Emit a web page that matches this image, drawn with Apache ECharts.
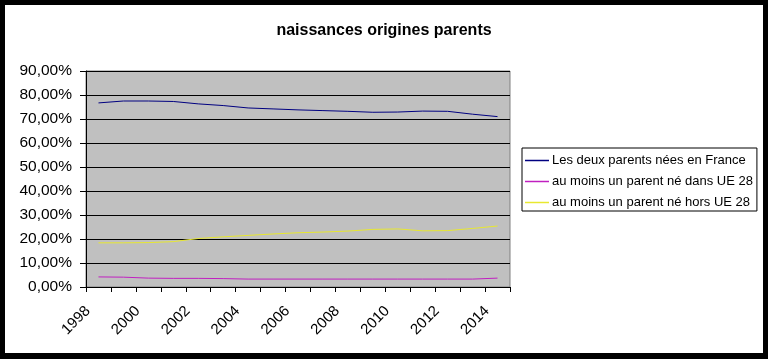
<!DOCTYPE html>
<html>
<head>
<meta charset="utf-8">
<script src="https://cdn.jsdelivr.net/npm/echarts@6/dist/echarts.min.js"></script>
<style>
html,body{margin:0;padding:0;background:#000;}
#c{width:768px;height:359px;}
</style>
</head>
<body>
<div id="c"></div>
<script>
var years = ['1998','1999','2000','2001','2002','2003','2004','2005','2006','2007','2008','2009','2010','2011','2012','2013','2014'];
var deuxFrance = [76.7,77.5,77.5,77.3,76.3,75.6,74.6,74.2,73.8,73.5,73.2,72.8,72.9,73.3,73.2,72.0,71.0];
var dansUE28 = [4.2,4.1,3.7,3.6,3.6,3.5,3.3,3.3,3.3,3.3,3.3,3.3,3.3,3.3,3.3,3.3,3.7];
var horsUE28 = [18.4,18.4,18.5,18.9,20.2,20.9,21.5,22.1,22.6,22.9,23.3,24.0,24.2,23.4,23.5,24.4,25.4];
var seriesNames = ['Les deux parents nées en France','au moins un parent né dans UE 28','au moins un parent né hors UE 28'];
var titleText = 'naissances origines parents';

var font = 'Liberation Sans, Arial, sans-serif';
var chart = echarts.init(document.getElementById('c'), null, {renderer:'canvas'});
function mk(name, data, color){
  return {name:name, type:'line', data:data, symbol:'none', smooth:false,
    lineStyle:{color:color, width:1}, itemStyle:{color:color}, animation:false};
}
chart.setOption({
  animation:false,
  backgroundColor:'#000',
  graphic:[{type:'rect', z:-10, silent:true, shape:{x:5,y:5,width:758,height:348}, style:{fill:'#fff'}}],
  title:{text:titleText, left:'center', top:18, textStyle:{fontFamily:font, fontSize:16, fontWeight:'bold', color:'#000'}},
  grid:{left:86, right:258, top:71, bottom:72, show:true, backgroundColor:'#c0c0c0', borderColor:'#808080', borderWidth:1},
  legend:{
    orient:'vertical', left:522, top:148, icon:'rect', itemWidth:24, itemHeight:1.5, itemGap:8,
    backgroundColor:'#fff', borderColor:'#000', borderWidth:1, borderRadius:0, padding:[6,4,2,3],
    textStyle:{fontFamily:font, fontSize:13, color:'#000', padding:[0,0,0,-2]},
    data:seriesNames
  },
  xAxis:{
    type:'category', data:years, boundaryGap:true,
    axisLine:{show:true, lineStyle:{color:'#000', width:1}},
    axisTick:{show:true, interval:0, length:5, lineStyle:{color:'#000'}},
    axisLabel:{interval:1, rotate:45, margin:11, padding:[0,15,0,0], fontFamily:font, fontSize:15, color:'#000'},
    splitLine:{show:false}
  },
  yAxis:{
    type:'value', min:0, max:90, interval:10,
    axisLine:{show:true, lineStyle:{color:'#000', width:1}},
    axisTick:{show:true, length:6, lineStyle:{color:'#000'}},
    axisLabel:{margin:14, fontFamily:font, fontSize:15.5, color:'#000',
      formatter:function(v){return v.toFixed(2).replace('.',',')+'%';}},
    splitLine:{show:true, lineStyle:{color:'#000', width:1}}
  },
  series:[
    mk(seriesNames[0], deuxFrance, '#000080'),
    mk(seriesNames[1], dansUE28, '#c020c0'),
    mk(seriesNames[2], horsUE28, '#e8e830')
  ]
});
</script>
</body>
</html>
